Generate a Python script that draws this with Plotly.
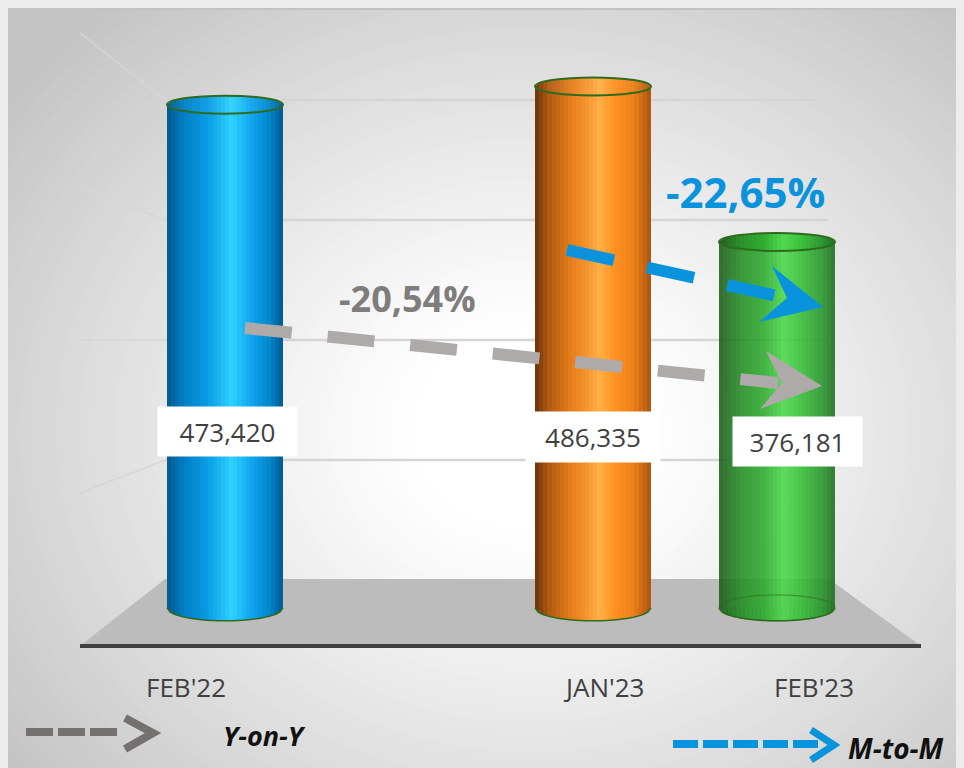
import math
import plotly.graph_objects as go

# ---------------- data ----------------
CATEGORIES = ["FEB'22", "JAN'23", "FEB'23"]
VALUES = [473420, 486335, 376181]
VALUE_LABELS = ["473,420", "486,335", "376,181"]
YOY_LABEL = "-20,54%"
MOM_LABEL = "-22,65%"
LEGEND_LABELS = ["Y-on-Y", "M-to-M"]

# ---------------- layout / style constants ----------------
W, H = 964, 768
OFF = 8                                         # page body margin
SLOTS = ["FEB'22", " ", "JAN'23", "FEB'23"]   # axis slots (one empty gap slot)
FLOOR = 117000                                  # value axis floor (3D base)
Y_RANGE = [-2125, 541900]
X_RANGE = [-1.1793, 4.0598]
BAR_W = 0.63
N = 28
B_TOP = 9
B_BOT = 13

GRADS = {
    "FEB'22": [(0, '#06588a'), (0.15, '#0080c6'), (0.35, '#0a9be4'), (0.56, '#2fd2ff'),
               (0.72, '#10a6ee'), (0.88, '#0088cc'), (1, '#00588e')],
    "JAN'23": [(0, '#663208'), (0.12, '#b25a12'), (0.3, '#e27c1a'), (0.45, '#f89630'),
               (0.56, '#ffb048'), (0.68, '#ff9222'), (0.85, '#ee8018'), (1, '#a85410')],
    "FEB'23": [(0, '#185818'), (0.18, '#218a21'), (0.38, '#2aa82a'), (0.56, '#48d848'),
               (0.72, '#32bb32'), (0.88, '#24962a'), (1, '#1a6a1a')],
}
OPAC = {"FEB'22": 1.0, "JAN'23": 1.0, "FEB'23": 0.88}
VAL_LABEL_POS = {"FEB'22": (3, 431, 137, 47), "JAN'23": (0, 437, 132, 48), "FEB'23": (20, 441, 127, 47)}
CAT_LABEL_SHIFT = {"FEB'22": -39, "JAN'23": 11, "FEB'23": 37}
EDGE = '#2f6b1c'
FONT = "Open Sans"


def hex2rgb(h):
    h = h.lstrip('#')
    return tuple(int(h[i:i + 2], 16) for i in (0, 2, 4))


def grad_color(stops, t, light=0.0):
    for (t0, c0), (t1, c1) in zip(stops[:-1], stops[1:]):
        if t0 <= t <= t1:
            f = (t - t0) / (t1 - t0) if t1 > t0 else 0
            a, b = hex2rgb(c0), hex2rgb(c1)
            rgb = [a[i] + (b[i] - a[i]) * f for i in range(3)]
            rgb = [v + (255 - v) * light for v in rgb]
            return 'rgb(%d,%d,%d)' % tuple(round(v) for v in rgb)
    return stops[-1][1]


def P(x, y):
    """screen pixel -> paper fraction"""
    return (x - OFF) / W, 1 - (y - OFF) / H


def ppath(points, close=True):
    s = ""
    for i, (x, y) in enumerate(points):
        px, py = P(x, y)
        s += ("M" if i == 0 else "L") + f"{px:.5f},{py:.5f} "
    return s + ("Z" if close else "")


shapes = []

# ---------- background panel with radial gradient ----------
shapes.append(dict(type='rect', xref='paper', yref='paper', x0=0, x1=1, y0=0, y1=1,
                   fillcolor='#c4c4c4', line_width=0, layer='below'))
CX, CY, RX, RY = 530, 430, 660, 560
steps = 64
for k in range(steps, 0, -1):
    r = k / steps * 1.15
    t = max(0.0, min(1.0, (r - 0.18) / 0.82))
    g = 255 - (255 - 196) * (t ** 1.1)
    gx0, gy0 = P(CX - RX * r, CY - RY * r)
    gx1, gy1 = P(CX + RX * r, CY + RY * r)
    shapes.append(dict(type='circle', xref='paper', yref='paper', x0=gx0, x1=gx1, y0=gy1, y1=gy0,
                       fillcolor='rgb(%d,%d,%d)' % (round(g), round(g), round(g)),
                       line_width=0, layer='below'))
# panel top border
shapes.append(dict(type='line', xref='paper', yref='paper', x0=0, x1=1,
                   y0=P(0, 9)[1], y1=P(0, 9)[1], line=dict(color='#c2c2c2', width=2), layer='below'))

# ---------- back wall gridlines & left wall ----------
for gy, ly in [(100, 33), (220, 187), (340, 340), (460, 493)]:
    x0, y0 = P(165, gy)
    x1, _ = P(828, gy)
    shapes.append(dict(type='line', xref='paper', yref='paper', x0=x0, x1=x1, y0=y0, y1=y0,
                       line=dict(color='#d5d5d5', width=2.5), layer='below'))
    lx, lyy = P(80, ly)
    shapes.append(dict(type='line', xref='paper', yref='paper', x0=lx, x1=x0, y0=lyy, y1=y0,
                       line=dict(color='#d6d6d6', width=1.5), layer='below'))

# ---------- floor ----------
shapes.append(dict(type='path', xref='paper', yref='paper',
                   path=ppath([(80, 646), (165, 579), (829, 579), (921, 646)]),
                   fillcolor='#bcbcbc', line_width=0, layer='below'))
bx0, by = P(80, 646)
bx1, _ = P(921, 646)
shapes.append(dict(type='line', xref='paper', yref='paper', x0=bx0, x1=bx1, y0=by, y1=by,
                   line=dict(color='#404040', width=4), layer='below'))

# ---------- cylinder bottoms (below bars) and tops (above) ----------
a = BAR_W / 2
for cat, val in zip(CATEGORIES, VALUES):
    cx = SLOTS.index(cat)
    stops = GRADS[cat]
    for s in range(N):
        xa = cx - a + s * BAR_W / N
        xb = xa + BAR_W / N + (0.004 if s < N - 1 else 0)
        xb = min(xb, cx + a)
        ya_b = B_BOT * math.sqrt(max(0.0, 1 - ((xa - cx) / a) ** 2))
        yb_b = B_BOT * math.sqrt(max(0.0, 1 - ((xb - cx) / a) ** 2))
        col = grad_color(stops, (s + 0.5) / N)
        shapes.append(dict(type='path', xref='x', yref='y', ysizemode='pixel', yanchor=FLOOR,
                           path=f"M{xa},0 L{xa},{-ya_b} L{xb},{-yb_b} L{xb},0 Z",
                           fillcolor=col, line_width=0, layer='below', opacity=OPAC[cat]))
    arc = "M" + " L".join(
        f"{cx - a + BAR_W * j / 40},{-B_BOT * math.sqrt(max(0.0, 1 - ((-a + BAR_W * j / 40) / a) ** 2))}"
        for j in range(41))
    shapes.append(dict(type='path', xref='x', yref='y', ysizemode='pixel', yanchor=FLOOR,
                       path=arc, line=dict(color=EDGE, width=1.5), layer='below'))

top_shapes = []
for cat, val in zip(CATEGORIES, VALUES):
    cx = SLOTS.index(cat)
    stops = GRADS[cat]
    for s in range(N):
        xa = cx - a + s * BAR_W / N
        xb = xa + BAR_W / N + (0.004 if s < N - 1 else 0)
        xb = min(xb, cx + a)
        ya = B_TOP * math.sqrt(max(0.0, 1 - ((xa - cx) / a) ** 2))
        yb = B_TOP * math.sqrt(max(0.0, 1 - ((xb - cx) / a) ** 2))
        col = grad_color(stops, (s + 0.5) / N, light=0.04)
        top_shapes.append(dict(type='path', xref='x', yref='y', ysizemode='pixel', yanchor=val,
                               path=f"M{xa},{-ya} L{xa},{ya} L{xb},{yb} L{xb},{-yb} Z",
                               fillcolor=col, line_width=0, layer='above'))
    top_shapes.append(dict(type='circle', xref='x', yref='y', ysizemode='pixel', yanchor=val,
                           x0=cx - a, x1=cx + a, y0=-B_TOP, y1=B_TOP,
                           line=dict(color=EDGE, width=2), fillcolor='rgba(0,0,0,0)', layer='above'))
    if OPAC[cat] < 1:
        top_shapes.append(dict(type='circle', xref='x', yref='y', ysizemode='pixel', yanchor=FLOOR,
                               x0=cx - a, x1=cx + a, y0=-B_BOT, y1=B_BOT,
                               line=dict(color=EDGE, width=1.2), fillcolor='rgba(0,0,0,0)',
                               opacity=0.55, layer='above'))
shapes += top_shapes

# ---------- change arrows ----------
GRAY = '#aeaaaa'
BLUE = '#0a93dd'
gx0, gy0 = P(245, 328)
gx1, gy1 = P(778, 383)
shapes.append(dict(type='line', xref='paper', yref='paper', x0=gx0, y0=gy0, x1=gx1, y1=gy1,
                   line=dict(color=GRAY, width=12, dash='47px,36px'), layer='above'))
shapes.append(dict(type='path', xref='paper', yref='paper',
                   path=ppath([(766, 351), (822, 386), (760, 409), (782, 383)]),
                   fillcolor=GRAY, line_width=0, layer='above'))
ux0, uy0 = P(567, 250)
ux1, uy1 = P(782, 297)
shapes.append(dict(type='line', xref='paper', yref='paper', x0=ux0, y0=uy0, x1=ux1, y1=uy1,
                   line=dict(color=BLUE, width=12, dash='48px,34px'), layer='above'))
shapes.append(dict(type='path', xref='paper', yref='paper',
                   path=ppath([(772, 266), (823, 307), (759, 322), (787, 298)]),
                   fillcolor=BLUE, line_width=0, layer='above'))

# ---------- legend arrows ----------
LG = '#767171'
lx0, ly0 = P(26, 732)
lx1, _ = P(118, 732)
shapes.append(dict(type='line', xref='paper', yref='paper', x0=lx0, x1=lx1, y0=ly0, y1=ly0,
                   line=dict(color=LG, width=8, dash='27px,5px'), layer='above'))
shapes.append(dict(type='path', xref='paper', yref='paper',
                   path=ppath([(125, 718), (153, 733), (125, 749)], close=False),
                   line=dict(color=LG, width=8), fillcolor='rgba(0,0,0,0)', layer='above'))
mx0, my0 = P(673, 744)
mx1, _ = P(818, 744)
shapes.append(dict(type='line', xref='paper', yref='paper', x0=mx0, x1=mx1, y0=my0, y1=my0,
                   line=dict(color=BLUE, width=8, dash='25px,5px'), layer='above'))
shapes.append(dict(type='path', xref='paper', yref='paper',
                   path=ppath([(811, 730), (834, 745), (811, 760)], close=False),
                   line=dict(color=BLUE, width=7), fillcolor='rgba(0,0,0,0)', layer='above'))

# ---------- figure ----------
fig = go.Figure()
lengths = [v - FLOOR for v in VALUES]
for s in range(N):
    cols = [grad_color(GRADS[c], (s + 0.5) / N) for c in CATEGORIES]
    ops = [OPAC[c] for c in CATEGORIES]
    fig.add_bar(x=CATEGORIES, y=lengths, base=FLOOR,
                offset=-BAR_W / 2 + s * BAR_W / N, width=BAR_W / N,
                marker=dict(color=cols, opacity=ops, line_width=0),
                customdata=VALUES, hovertemplate="%{x}: %{customdata:,}<extra></extra>",
                showlegend=False)

annotations = []
for cat, lab in zip(CATEGORIES, VALUE_LABELS):
    xs, yc, bw, bh = VAL_LABEL_POS[cat]
    annotations.append(dict(x=cat, xref='x', y=P(0, yc)[1], yref='paper', xshift=xs,
                            text=lab, showarrow=False, bgcolor='white', width=bw, height=bh,
                            font=dict(family=FONT, size=26, color='#404040'),
                            xanchor='center', yanchor='middle'))
    annotations.append(dict(x=cat, xref='x', y=P(0, 687)[1], yref='paper',
                            xshift=CAT_LABEL_SHIFT[cat], text=cat, showarrow=False,
                            font=dict(family=FONT, size=26, color='#404040'),
                            xanchor='center', yanchor='middle'))

px_, py_ = P(407, 298)
annotations.append(dict(x=px_, y=py_, xref='paper', yref='paper', text="<b>%s</b>" % YOY_LABEL,
                        showarrow=False, font=dict(family=FONT, size=36, color='#7f7c7c'),
                        xanchor='center', yanchor='middle'))
px_, py_ = P(745, 191)
annotations.append(dict(x=px_, y=py_, xref='paper', yref='paper', text="<b>%s</b>" % MOM_LABEL,
                        showarrow=False, font=dict(family=FONT, size=42, color=BLUE),
                        xanchor='center', yanchor='middle'))
px_, py_ = P(264, 735)
annotations.append(dict(x=px_, y=py_, xref='paper', yref='paper',
                        text="<b><i>%s</i></b>" % LEGEND_LABELS[0], showarrow=False,
                        font=dict(family=FONT, size=27, color='#111111'),
                        xanchor='center', yanchor='middle'))
px_, py_ = P(896, 748)
annotations.append(dict(x=px_, y=py_, xref='paper', yref='paper',
                        text="<b><i>%s</i></b>" % LEGEND_LABELS[1], showarrow=False,
                        font=dict(family=FONT, size=28, color='#111111'),
                        xanchor='center', yanchor='middle'))

fig.update_layout(
    width=W, height=H, autosize=False,
    margin=dict(l=0, r=0, t=0, b=0),
    paper_bgcolor='#ececec', plot_bgcolor='rgba(0,0,0,0)',
    barmode='overlay', bargap=0,
    showlegend=False,
    shapes=shapes,
    annotations=annotations,
    xaxis=dict(type='category', categoryorder='array', categoryarray=SLOTS,
               range=X_RANGE, showticklabels=False, showgrid=False, zeroline=False,
               showline=False, ticks='', fixedrange=True),
    yaxis=dict(range=Y_RANGE, showticklabels=False, showgrid=False, zeroline=False,
               showline=False, ticks='', fixedrange=True),
    font=dict(family=FONT),
)

fig.write_html("out.html", post_script="document.body.style.background='#ececec';")
